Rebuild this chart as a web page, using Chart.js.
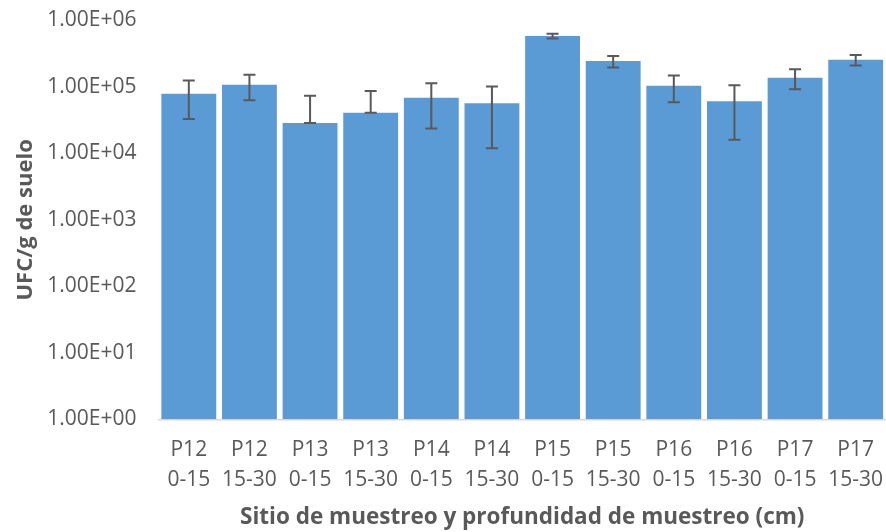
<!DOCTYPE html>
<html>
<head>
<meta charset="utf-8">
<script src="https://cdn.jsdelivr.net/npm/chart.js@4/dist/chart.umd.min.js"></script>
<style>
  html, body { margin: 0; padding: 0; background: #fff; }
  #wrap { width: 886px; height: 532px; }
</style>
</head>
<body>
<div id="wrap"><canvas id="myChart" width="886" height="532"></canvas></div>
<script>
'use strict';

// sampling sites, two lines per label
let sites = ['P12', 'P12', 'P13', 'P13', 'P14', 'P14', 'P15', 'P15', 'P16', 'P16', 'P17', 'P17'];
let depths = ['0-15', '15-30', '0-15', '15-30', '0-15', '15-30', '0-15', '15-30', '0-15', '15-30', '0-15', '15-30'];

// UFC/g de suelo
let ufcValues = [79000, 108000, 28800, 40800, 68700, 57000, 584000, 245000, 104000, 61000, 138000, 257000];
let ufcErrors = [46000, 45000, 45000, 46000, 45000, 45000, 50000, 48000, 45000, 45000, 46000, 46000];

let yTickValues = [1, 10, 100, 1000, 10000, 100000, 1000000];
let yTickLabels = ['1.00E+00', '1.00E+01', '1.00E+02', '1.00E+03', '1.00E+04', '1.00E+05', '1.00E+06'];

let labels = [];
for (let i = 0; i < sites.length; i++) {
  labels.push([sites[i], depths[i]]);
}

let textColor = '#595959';

// draws the error bars on top of the bars
let errorBars = {
  id: 'errorBars',
  afterDatasetsDraw(chart) {
    let ctx = chart.ctx;
    let meta = chart.getDatasetMeta(0);
    let y = chart.scales.y;
    ctx.save();
    ctx.strokeStyle = '#595959';
    ctx.lineWidth = 2;
    for (let i = 0; i < meta.data.length; i++) {
      let bar = meta.data[i];
      let v = ufcValues[i];
      let hi = v + ufcErrors[i];
      let lo = v - ufcErrors[i];
      if (lo <= 0) lo = v; // negative side can't show on a log axis
      let yHi = y.getPixelForValue(hi);
      let yLo = y.getPixelForValue(lo);
      ctx.beginPath();
      ctx.moveTo(bar.x, yHi);
      ctx.lineTo(bar.x, yLo);
      ctx.moveTo(bar.x - 6, yHi);
      ctx.lineTo(bar.x + 6, yHi);
      ctx.moveTo(bar.x - 6, yLo);
      ctx.lineTo(bar.x + 6, yLo);
      ctx.stroke();
    }
    ctx.restore();
  }
};

let ctx = document.getElementById('myChart').getContext('2d');
let chart = new Chart(ctx, {
  type: 'bar',
  data: {
    labels: labels,
    datasets: [{
      label: 'UFC/g de suelo',
      data: ufcValues,
      backgroundColor: '#5B9BD5',
      borderWidth: 0,
      categoryPercentage: 1,
      barPercentage: 0.905
    }]
  },
  options: {
    responsive: false,
    animation: false,
    layout: { padding: { top: 20.5, right: 0, bottom: 0, left: 0 } },
    plugins: {
      legend: { display: false },
      tooltip: { enabled: false }
    },
    scales: {
      x: {
        grid: { display: false, drawTicks: false },
        border: { display: true, color: '#D9D9D9', width: 1.5 },
        ticks: {
          color: textColor,
          padding: 16,
          maxRotation: 0,
          autoSkip: false,
          font: { family: 'Open Sans', size: 21, lineHeight: 1.43 }
        },
        title: {
          display: true,
          text: 'Sitio de muestreo y profundidad de muestreo (cm)',
          color: textColor,
          padding: { top: 1, bottom: 1 },
          font: { family: 'Open Sans', size: 22.5, weight: 'bold' }
        },
        afterFit(scale) {
          scale.height = 112.7;
          scale.paddingLeft = 0;
          scale.paddingRight = 0;
        }
      },
      y: {
        type: 'logarithmic',
        min: 1,
        max: 1000000,
        grid: { display: false, drawTicks: false },
        border: { display: false },
        afterBuildTicks(scale) {
          scale.ticks = yTickValues.map(v => ({ value: v }));
        },
        ticks: {
          color: textColor,
          padding: 22,
          font: { family: 'Open Sans', size: 21 },
          callback(value) {
            let idx = yTickValues.indexOf(value);
            return idx >= 0 ? yTickLabels[idx] : '';
          }
        },
        title: {
          display: true,
          text: 'UFC/g de suelo',
          color: textColor,
          padding: { top: 13, bottom: 0 },
          font: { family: 'Open Sans', size: 22, weight: 'bold' }
        },
        afterFit(scale) {
          scale.width = 158.5;
          scale.paddingTop = 0;
          scale.paddingBottom = 0;
        }
      }
    }
  },
  plugins: [errorBars]
});
</script>
</body>
</html>
